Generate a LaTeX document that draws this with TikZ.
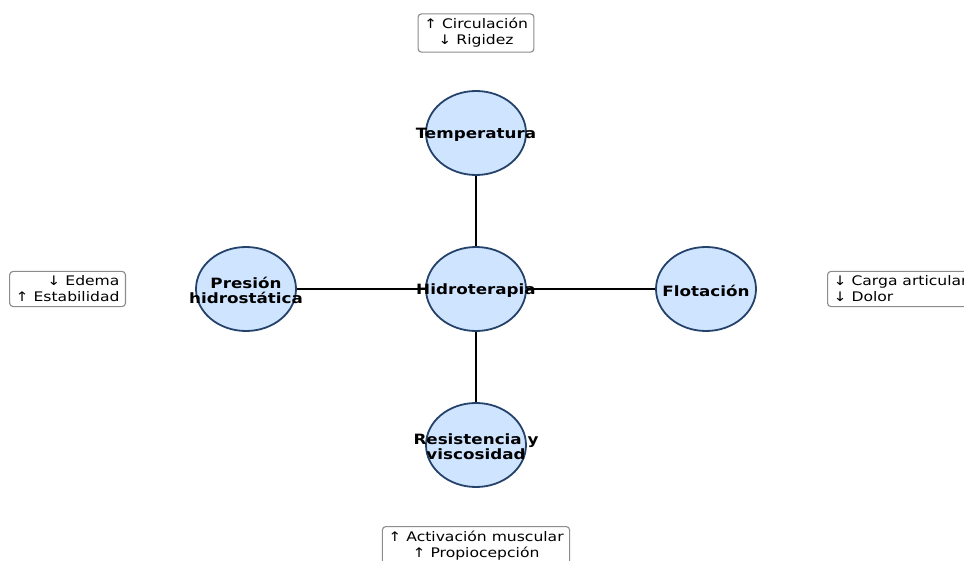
\documentclass[tikz,border=0pt]{standalone}
\usepackage{fontspec}
\setmainfont{DejaVu Sans}[FakeStretch=1.18]
\usetikzlibrary{shapes.geometric}
\definecolor{bubblefill}{RGB}{207,228,255}
\definecolor{bubbleedge}{RGB}{36,66,106}
\begin{document}
\begin{tikzpicture}[x=1bp,y=-1bp,
  bubble/.style={ellipse, draw=bubbleedge, line width=1.8bp, fill=bubblefill,
    minimum width=100bp, minimum height=84bp, inner sep=0pt},
  lbl/.style={font=\fontsize{14.2bp}{15.5bp}\selectfont\bfseries, align=center, inner sep=0pt, yshift=-1.5bp},
  effect/.style={draw=black!45, line width=1.1bp, rounded corners=3.5bp, fill=white,
    font=\fontsize{13.2bp}{16bp}\selectfont, inner xsep=6bp, inner ysep=4.5bp},
  link/.style={line width=1.7bp, black}]
\useasboundingbox (0,0) rectangle (964,561);
% bubbles
\node[bubble] (hub)  at (476,289) {};
\node[bubble] (temp) at (476,133) {};
\node[bubble] (pres) at (246,289) {};
\node[bubble] (flot) at (706,289) {};
\node[bubble] (resi) at (476,445) {};
% connectors
\draw[link] (hub) -- (temp);
\draw[link] (hub) -- (pres);
\draw[link] (hub) -- (flot);
\draw[link] (hub) -- (resi);
% labels
\node[lbl] (hubl)  at (hub)  {Hidroterapia};
\node[lbl] (templ) at (temp) {Temperatura};
\node[lbl] (presl) at (pres) {Presión\\hidrostática};
\node[lbl] (flotl) at (flot) {Flotación};
\node[lbl] (resil) at (resi) {Resistencia y\\viscosidad};
% effect boxes
\node[effect, align=center] (tempe) at (476,33) {↑ Circulación\\↓ Rigidez};
\node[effect, align=right, anchor=east] (prese) at (126,289) {↓ Edema\\↑ Estabilidad};
\node[effect, align=left, anchor=west] (flote) at (827,289) {↓ Carga articular\\↓ Dolor};
\node[effect, align=center, anchor=north] (resie) at (476,526) {↑ Activación muscular\\↑ Propiocepción};
\end{tikzpicture}
\end{document}
